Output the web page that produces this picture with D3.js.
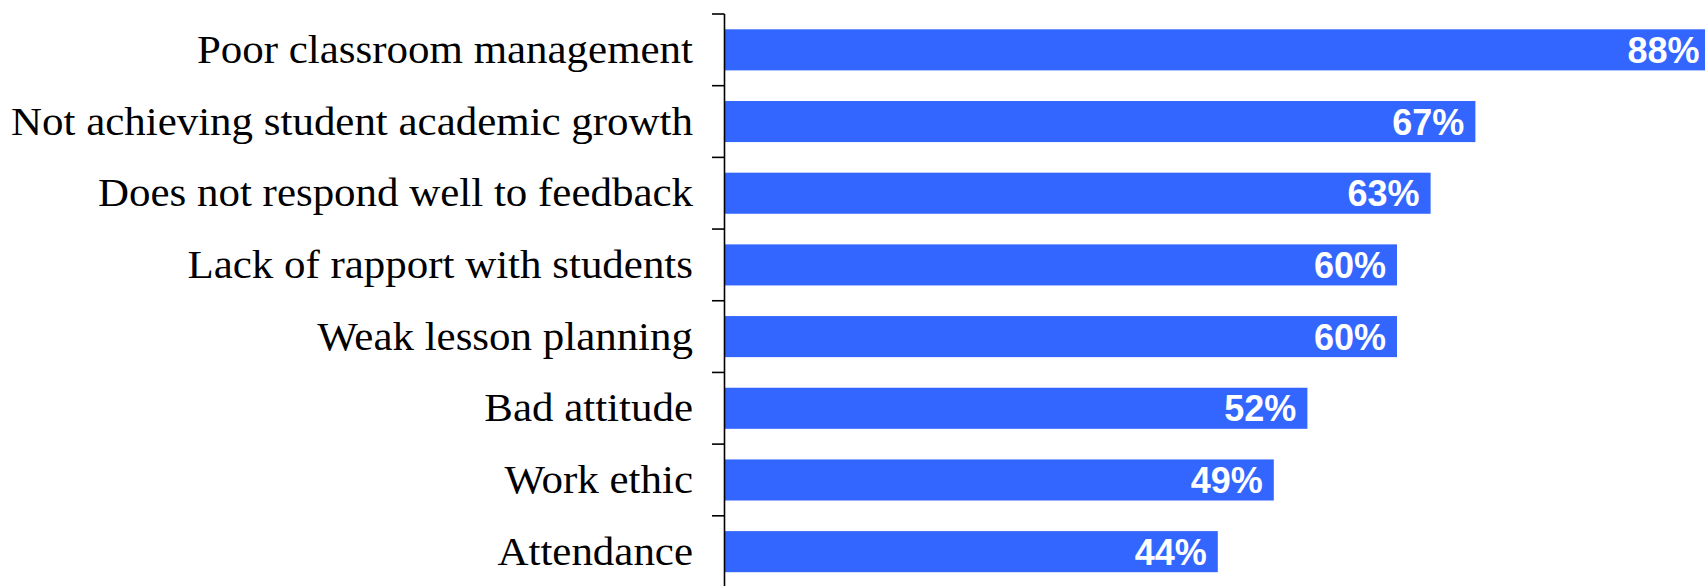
<!DOCTYPE html>
<html>
<head>
<meta charset="utf-8">
<script src="https://cdn.jsdelivr.net/npm/d3@7"></script>
<style>
  html, body { margin: 0; padding: 0; background: #fff; }
  svg { display: block; }
</style>
</head>
<body>
<svg id="chart" width="1705" height="586"></svg>
<script>
const categories = [
  "Poor classroom management",
  "Not achieving student academic growth",
  "Does not respond well to feedback",
  "Lack of rapport with students",
  "Weak lesson planning",
  "Bad attitude",
  "Work ethic",
  "Attendance"
];
const values = [88, 67, 63, 60, 60, 52, 49, 44];
const valueLabels = ["88%", "67%", "63%", "60%", "60%", "52%", "49%", "44%"];

const W = 1705, H = 586;
const axisX = 724.5;
const svg = d3.select("#chart");

const x = d3.scaleLinear().domain([0, 100]).range([725, 725 + 1120]);
const y = d3.scaleBand().domain(categories).range([14, 587.5]).padding(0);
const barH = y.bandwidth() * 0.573;

const data = categories.map((c, i) => ({ c, v: values[i], l: valueLabels[i] }));

// bars
svg.append("g").selectAll("rect").data(data).join("rect")
  .attr("x", x(0))
  .attr("y", d => y(d.c) + y.bandwidth() / 2 - barH / 2)
  .attr("width", d => x(d.v) - x(0))
  .attr("height", barH)
  .attr("fill", "#3366ff");

// value labels
svg.append("g").selectAll("text").data(data).join("text")
  .attr("x", d => x(d.v) - 11)
  .attr("y", d => y(d.c) + y.bandwidth() / 2 + 13)
  .attr("text-anchor", "end")
  .attr("fill", "#ffffff")
  .style("font-family", "'Liberation Sans', Arial, sans-serif")
  .style("font-weight", "bold")
  .style("font-size", "36px")
  .text(d => d.l);

// axis line and ticks (ticks at band boundaries)
const g = svg.append("g");
g.append("line")
  .attr("x1", axisX).attr("x2", axisX)
  .attr("y1", 14).attr("y2", H)
  .attr("stroke", "#000").attr("stroke-width", 1.6);
const tickYs = categories.map(c => y(c));
g.selectAll("line.tick").data(tickYs).join("line")
  .attr("class", "tick")
  .attr("x1", 712).attr("x2", axisX)
  .attr("y1", d => d).attr("y2", d => d)
  .attr("stroke", "#000").attr("stroke-width", 1.6);

// category labels (serif; widened uniformly to match the wider book face of the original)
const labels = svg.append("g").selectAll("text").data(data).join("text")
  .attr("x", 693)
  .attr("y", d => y(d.c) + y.bandwidth() / 2 + 13)
  .attr("text-anchor", "end")
  .attr("fill", "#000")
  .style("font-family", "'Liberation Serif', 'Times New Roman', serif")
  .style("font-size", "40px")
  .text(d => d.c);

const lens = labels.nodes().map(n => n.getComputedTextLength());
const maxLen = d3.max(lens);
const ratio = 682 / maxLen;
labels.each(function (d, i) {
  d3.select(this)
    .attr("textLength", lens[i] * ratio)
    .attr("lengthAdjust", "spacingAndGlyphs");
});
</script>
</body>
</html>
